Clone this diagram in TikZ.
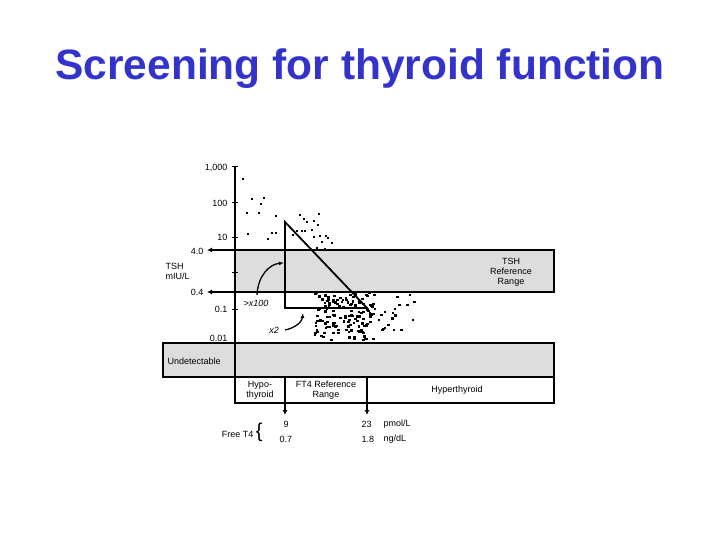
\documentclass[tikz,border=0pt]{standalone}
\usepackage{fontspec}
\setmainfont{Liberation Sans}
\usetikzlibrary{arrows.meta}
\definecolor{ttl}{RGB}{51,51,204}
\definecolor{band}{RGB}{221,221,221}
\begin{document}
\begin{tikzpicture}[x=1pt,y=-1pt,
  lab/.style={font=\fontsize{9}{10}\selectfont},
  box/.style={draw=black,line width=1.8pt},
  arr/.style={line width=1.5pt,-{Latex[length=5pt,width=5pt]}}]
\useasboundingbox (0,0) rectangle (720,540);
\node[font=\fontsize{42.5}{46}\bfseries\selectfont,text=ttl] (title) at (360,69) {Screening for thyroid function};
% bands
\fill[band] (235,250) rectangle (554,292);
\fill[band] (163,343) rectangle (554,377);
\draw[box] (235,250) rectangle (554,292);
\draw[box] (163,343) rectangle (554,377);
\draw[box] (235,377) rectangle (554,403);
\draw[line width=1.8pt] (285,377) -- (285,403) (367,377) -- (367,403);
% axis
\draw[line width=2.6pt] (235,167) -- (235,403);
\foreach \yy in {167,203,237,272,309,343} \draw[line width=1pt] (232,\yy) -- (238,\yy);
% labels
\node[lab,anchor=east] (t1000) at (231,168) {1,000};
\node[lab,anchor=east] (t100) at (231,203) {100};
\node[lab,anchor=east] (t10) at (231,237) {10};
\node[lab,anchor=east] (t4) at (207,251) {4.0};
\node[lab,anchor=east] (t04) at (207,292) {0.4};
\node[lab,anchor=east] (t01) at (231,309) {0.1};
\node[lab,anchor=east] (t001) at (231,338) {0.01};
\coordinate (a4) at (235,250); \coordinate (a4e) at (207,250);
\coordinate (a04) at (235,292); \coordinate (a04e) at (207,292);
\draw[arr] (a4) -- (a4e);
\draw[arr] (a04) -- (a04e);
\node[lab,align=left,anchor=west] (tsh) at (162,271) {TSH\\mIU/L};
\node[lab,align=center] (ref) at (511,272) {TSH\\Reference\\Range};
\node[lab,anchor=west] (und) at (164,361) {Undetectable};
\node[lab,align=center] (hypo) at (260,390) {Hypo-\\thyroid};
\node[lab,align=center] (ft4) at (326,390) {FT4 Reference\\Range};
\node[lab] (hyper) at (457,390) {Hyperthyroid};
% triangle
\coordinate (ta) at (285,222); \coordinate (tb) at (285,308); \coordinate (tc) at (367,308);
\draw[line width=1.8pt] (ta) -- (tb) -- (tc) -- cycle;
\node[font=\fontsize{9}{10}\itshape\selectfont] (x100) at (256,303) {>x100};
\node[font=\fontsize{9}{10}\itshape\selectfont] (x2) at (274,330) {x2};
\coordinate (c1) at (284,263); \coordinate (c2) at (303,313);
\draw[line width=1.3pt,-{Latex[length=5pt,width=4pt]}] (257,295) .. controls (258,275) and (270,264) .. (c1);
\draw[line width=1.3pt,-{Latex[length=5pt,width=4pt]}] (285,330) .. controls (295,328) and (302,322) .. (c2);
% down arrows
\coordinate (d1) at (285,403); \coordinate (d1e) at (285,415);
\coordinate (d2) at (367,403); \coordinate (d2e) at (367,415);
\draw[arr] (d1) -- (d1e); \draw[arr] (d2) -- (d2e);
\node[lab,anchor=west] (n9) at (280,424) {9};
\node[lab,anchor=west] (n07) at (276,439) {0.7};
\node[lab,anchor=west] (n23) at (358,424) {23};
\node[lab,anchor=west] (n18) at (358,439) {1.8};
\node[lab,anchor=west] (pm) at (380,424) {pmol/L};
\node[lab,anchor=west] (ng) at (380,439) {ng/dL};
\node[lab,anchor=east] (ft) at (266,432) {Free T4 \fontsize{20}{20}\selectfont\{};
% scatter
\foreach \px/\py in {243/179,252/199,264/198,261/204,247/213,259/213,276/216,248/234,268/239,276/233,272/233,
  300/215,304/219,314/221,319/214,307/222,318/225,293/235,297/231,302/231,305/231,312/230,314/237,320/236,326/236,328/238,322/242,332/243,317/248,325/249,310/250}
  \fill (\px-1.3,\py-1.3) rectangle (\px+1.3,\py+1.3);
\pgfmathsetseed{11}
\foreach \i in {1,...,140}{
  \pgfmathsetmacro{\px}{315+rnd*60}
  \pgfmathsetmacro{\py}{293+rnd*48}
  \fill (\px-1.4,\py-1.1) rectangle (\px+1.4,\py+1.1);}
\foreach \i in {1,...,25}{
  \pgfmathsetmacro{\px}{370+rnd*45}
  \pgfmathsetmacro{\py}{295+rnd*46}
  \fill (\px-1.3,\py-1.1) rectangle (\px+1.3,\py+1.1);}
\end{tikzpicture}
\end{document}
